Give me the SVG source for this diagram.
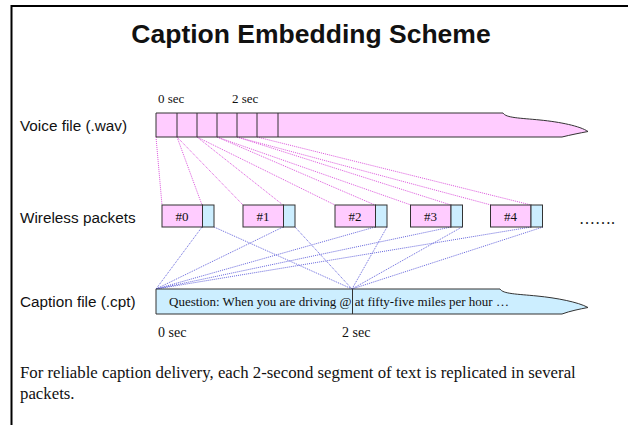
<svg xmlns="http://www.w3.org/2000/svg" width="628" height="425" viewBox="0 0 628 425">
<style>
.lbl{font-family:"Liberation Sans",Arial,sans-serif;font-size:15.3px;fill:#111}
.tm{font-family:"Liberation Serif","Times New Roman",serif;fill:#111}
.pink{fill:#ffccff;stroke:#333;stroke-width:1}
.blue{fill:#cceeff;stroke:#333;stroke-width:1}
.pl{stroke:#dd55dd;stroke-width:1;stroke-dasharray:1 1;fill:none}
.bl{stroke:#6666dd;stroke-width:1;stroke-dasharray:1 1;fill:none}
</style>
<rect width="628" height="425" fill="#fff"/>
<path d="M11.5,425 V6 H628" fill="none" stroke="#000" stroke-width="2"/>
<text x="311" y="43" text-anchor="middle" style="font-family:'Liberation Sans',Arial,sans-serif;font-weight:bold;font-size:26.5px;fill:#111">Caption Embedding Scheme</text>

<text class="lbl" x="20" y="131">Voice file (.wav)</text>
<text class="lbl" x="20" y="223">Wireless packets</text>
<text class="lbl" x="20" y="307">Caption file (.cpt)</text>

<g id="connectors">
<g class="pl">
<line x1="156" y1="137" x2="162" y2="205"/>
<line x1="177" y1="137" x2="202" y2="205"/>
<line x1="177" y1="137" x2="243" y2="205"/>
<line x1="197" y1="137" x2="283" y2="205"/>
<line x1="197" y1="137" x2="335" y2="205"/>
<line x1="217" y1="137" x2="375" y2="205"/>
<line x1="217" y1="137" x2="411" y2="205"/>
<line x1="237" y1="137" x2="451" y2="205"/>
<line x1="237" y1="137" x2="491" y2="205"/>
<line x1="257" y1="137" x2="531" y2="205"/>
</g>
<g class="bl">
<line x1="202" y1="227" x2="156" y2="289"/>
<line x1="283" y1="227" x2="156" y2="289"/>
<line x1="375" y1="227" x2="156" y2="289"/>
<line x1="451" y1="227" x2="156" y2="289"/>
<line x1="531" y1="227" x2="156" y2="289"/>
<line x1="214" y1="227" x2="352" y2="289"/>
<line x1="295" y1="227" x2="352" y2="289"/>
<line x1="387" y1="227" x2="352" y2="289"/>
<line x1="462" y1="227" x2="352" y2="289"/>
<line x1="543" y1="227" x2="352" y2="289"/>
</g>
</g>

<g id="voice">
<path class="pink" d="M156,113 H503 C506,118 520,118 540,120 C560,122 580,126 588,131.5 C580,133 570,135 562,137 H156 Z"/>
<g stroke="#333" stroke-width="1">
<line x1="177" y1="113" x2="177" y2="137"/>
<line x1="197" y1="113" x2="197" y2="137"/>
<line x1="217" y1="113" x2="217" y2="137"/>
<line x1="237" y1="113" x2="237" y2="137"/>
<line x1="257" y1="113" x2="257" y2="137"/>
<line x1="278" y1="113" x2="278" y2="137"/>
</g>
<text class="tm" x="158" y="103" font-size="13">0 sec</text>
<text class="tm" x="232" y="103" font-size="13">2 sec</text>
</g>

<g id="p0"><rect class="pink" x="162" y="205" width="40.5" height="22"/><rect class="blue" x="202.5" y="205" width="11.5" height="22"/><text class="tm" x="182" y="220.5" font-size="13" text-anchor="middle">#0</text></g>
<g id="p1"><rect class="pink" x="243" y="205" width="40.5" height="22"/><rect class="blue" x="283.5" y="205" width="11.5" height="22"/><text class="tm" x="263" y="220.5" font-size="13" text-anchor="middle">#1</text></g>
<g id="p2"><rect class="pink" x="335" y="205" width="40.5" height="22"/><rect class="blue" x="375.5" y="205" width="11.5" height="22"/><text class="tm" x="355" y="220.5" font-size="13" text-anchor="middle">#2</text></g>
<g id="p3"><rect class="pink" x="410.5" y="205" width="40.5" height="22"/><rect class="blue" x="451" y="205" width="11.5" height="22"/><text class="tm" x="430.5" y="220.5" font-size="13" text-anchor="middle">#3</text></g>
<g id="p4"><rect class="pink" x="490.5" y="205" width="40.5" height="22"/><rect class="blue" x="531" y="205" width="11.5" height="22"/><text class="tm" x="510.5" y="220.5" font-size="13" text-anchor="middle">#4</text></g>
<text class="tm" x="579" y="224" font-size="16">…….</text>

<g id="caption">
<path class="blue" d="M156,289 H500 C503,294 517,294 537,296 C557,298 578,302 588,307.5 C580,309 570,311 562,314 H156 Z"/>
<line x1="352.5" y1="289" x2="352.5" y2="314" stroke="#333" stroke-width="1"/>
<text class="tm" x="169" y="306" font-size="13">Question: When you are driving @ at fifty-five miles per hour …</text>
<text class="tm" x="158" y="337" font-size="14">0 sec</text>
<text class="tm" x="342" y="337" font-size="14">2 sec</text>
</g>

<text class="tm" x="20" y="378" font-size="16.8">For reliable caption delivery, each 2-second segment of text is replicated in several</text>
<text class="tm" x="20" y="399" font-size="16.8">packets.</text>
</svg>
